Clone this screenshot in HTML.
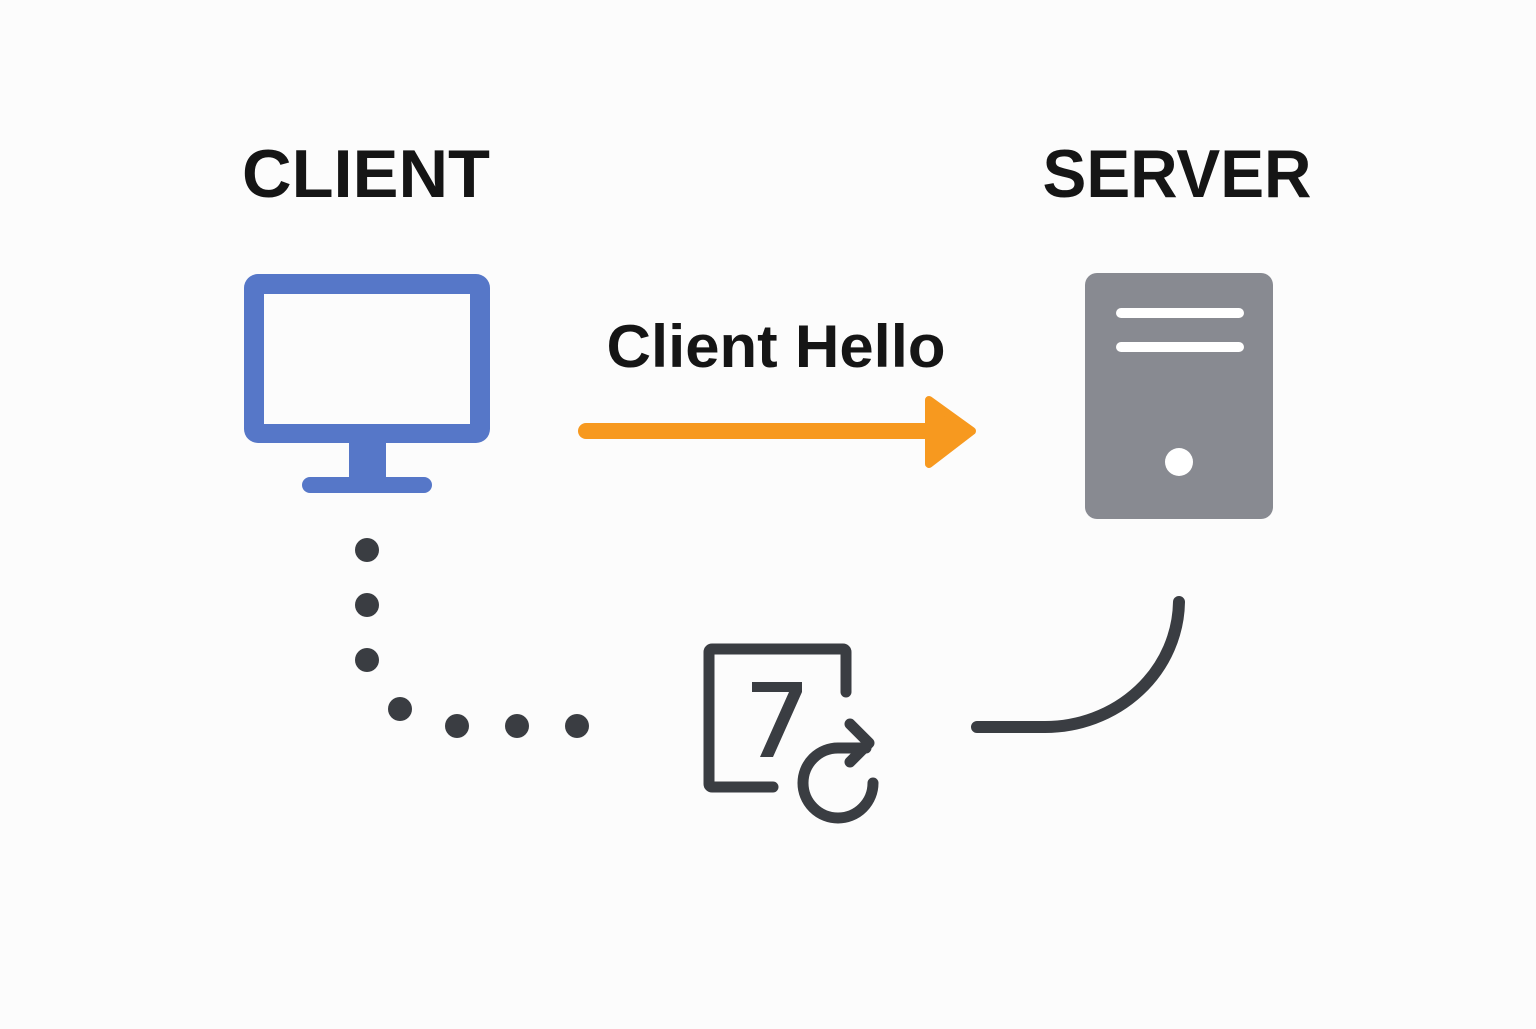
<!DOCTYPE html>
<html><head><style>
html,body{margin:0;padding:0;background:#fcfcfc;}
</style></head><body>
<svg width="1536" height="1024" viewBox="0 0 1536 1024" xmlns="http://www.w3.org/2000/svg">
<rect width="1536" height="1024" fill="#fcfcfc"/>
<text x="366" y="197" font-family="Liberation Sans, sans-serif" font-weight="bold" font-size="68" fill="#151515" text-anchor="middle" textLength="248" lengthAdjust="spacingAndGlyphs">CLIENT</text>
<text x="1177" y="197" font-family="Liberation Sans, sans-serif" font-weight="bold" font-size="68" fill="#151515" text-anchor="middle" textLength="269" lengthAdjust="spacingAndGlyphs">SERVER</text>
<text x="776" y="367" font-family="Liberation Sans, sans-serif" font-weight="bold" font-size="60" fill="#151515" text-anchor="middle" textLength="339" lengthAdjust="spacingAndGlyphs">Client Hello</text>
<path fill="#5677c8" fill-rule="evenodd" d="M258 274 H476 A14 14 0 0 1 490 288 V429 A14 14 0 0 1 476 443 H258 A14 14 0 0 1 244 429 V288 A14 14 0 0 1 258 274 Z M264 294 V424 H470 V294 Z"/>
<rect x="349" y="440" width="37" height="40" fill="#5677c8"/>
<rect x="302" y="477" width="130" height="16" rx="8" fill="#5677c8"/>
<line x1="586" y1="431" x2="940" y2="431" stroke="#f7991f" stroke-width="16" stroke-linecap="round"/>
<path d="M929 400 L972 431 L929 464 Z" fill="#f7991f" stroke="#f7991f" stroke-width="8" stroke-linejoin="round"/>
<rect x="1085" y="273" width="188" height="246" rx="12" fill="#888a91"/>
<line x1="1121" y1="313" x2="1239" y2="313" stroke="#fff" stroke-width="10" stroke-linecap="round"/>
<line x1="1121" y1="347" x2="1239" y2="347" stroke="#fff" stroke-width="10" stroke-linecap="round"/>
<circle cx="1179" cy="462" r="14" fill="#fff"/>
<g fill="#3a3d42">
<circle cx="367" cy="550" r="12"/><circle cx="367" cy="605" r="12"/><circle cx="367" cy="660" r="12"/>
<circle cx="400" cy="709" r="12"/><circle cx="457" cy="726" r="12"/><circle cx="517" cy="726" r="12"/><circle cx="577" cy="726" r="12"/>
</g>
<path d="M977 727 H1045 A134 127 0 0 0 1179 602" fill="none" stroke="#3a3d42" stroke-width="12" stroke-linecap="round"/>
<g fill="none" stroke="#3a3d42" stroke-width="11" stroke-linecap="round" stroke-linejoin="round">
<path d="M773 787 H712 A3 3 0 0 1 709 784 V652 A3 3 0 0 1 712 649 H843 A3 3 0 0 1 846 652 V692"/>
<path d="M873 783 A35 35 0 1 1 838 748 H866"/>
<path d="M850 724 L869 743 L850 762"/>
</g>
<path d="M752 682 H802 V692 L773 757 H760 L789 692 H752 Z" fill="#3a3d42"/>
</svg>
</body></html>
